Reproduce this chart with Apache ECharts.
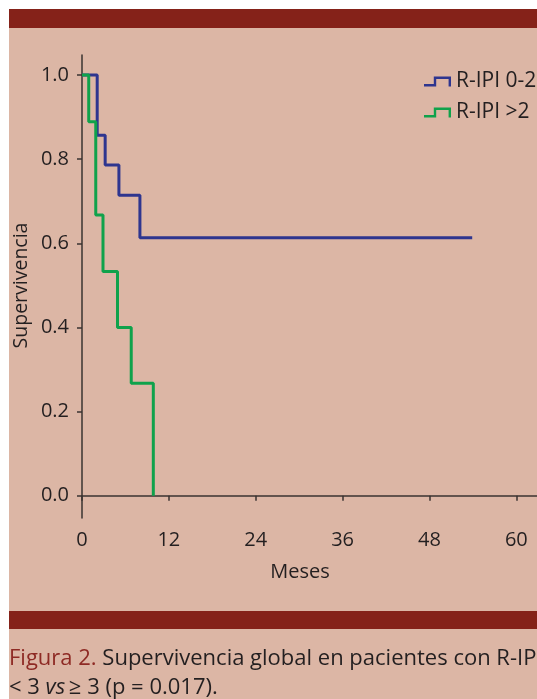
<!DOCTYPE html>
<html>
<head>
<meta charset="utf-8">
<script src="https://cdn.jsdelivr.net/npm/echarts@6/dist/echarts.min.js"></script>
<style>
html,body{margin:0;padding:0;background:#fff;}
#c{width:537px;height:699px;}
</style>
</head>
<body>
<div id="c"></div>
<script>
// ---- data ----
const seriesNames = ['R-IPI 0-2', 'R-IPI >2'];
const blueMonths = [0, 2.1, 3.2, 5.1, 8.0, 53.9];
const blueSurv   = [1.0, 0.857, 0.786, 0.714, 0.613, 0.613];
const greenMonths = [0, 0.93, 1.9, 2.9, 4.9, 6.8, 9.85];
const greenSurv   = [1.0, 0.889, 0.667, 0.533, 0.4, 0.267, 0.0];
const xTicks = [0, 12, 24, 36, 48, 60];
const yTicks = [0, 0.2, 0.4, 0.6, 0.8, 1.0];
const xTitle = 'Meses';
const yTitle = 'Supervivencia';
const captionLead = 'Figura 2.';
const captionLine1 = ' Supervivencia global en pacientes con R-IPI';
const captionLine2a = '< 3 ';
const captionVs = 'vs';
const captionLine2b = '\u2009\u2265 3 (p = 0.017).';

const FONT = '"Open Sans", "Noto Sans", sans-serif';
const TAN = '#DCB6A5';
const DARK = '#852219';
const INK = '#231F20';

function pairs(xs, ys) { return xs.map((x, i) => [x, ys[i]]); }

const stepIcon = 'path://M0 7.6 L9.8 7.6 L9.8 0 L27 0 L27 10 L24.6 10 L24.6 2.4 L12.2 2.4 L12.2 10 L0 10 Z';

const chart = echarts.init(document.getElementById('c'), null, {renderer: 'canvas'});
chart.setOption({
  animation: false,
  backgroundColor: '#ffffff',
  textStyle: {fontFamily: FONT},
  graphic: [
    {type: 'rect', z: -10, shape: {x: 9, y: 9, width: 540, height: 700}, style: {fill: TAN}},
    {type: 'rect', z: -9, shape: {x: 9, y: 9, width: 540, height: 19}, style: {fill: DARK}},
    {type: 'rect', z: -9, shape: {x: 9, y: 611, width: 540, height: 18}, style: {fill: DARK}},
    {type: 'text', z: 10, x: 300, y: 572, style: {text: xTitle, font: '20px ' + FONT, fill: INK, textAlign: 'center', textVerticalAlign: 'middle'}},
    {type: 'text', z: 10, x: 21, y: 285.5, rotation: Math.PI / 2, style: {text: yTitle, font: '19.5px ' + FONT, fill: INK, textAlign: 'center', textVerticalAlign: 'middle'}},
    {type: 'text', z: 10, x: 9, y: 659, style: {
      text: '{r|' + captionLead + '}' + captionLine1,
      font: '22px ' + FONT, fill: INK, textAlign: 'left', textVerticalAlign: 'middle',
      rich: {r: {fill: '#8E2A24', font: '22px ' + FONT}}
    }},
    {type: 'text', z: 10, x: 9, y: 688, style: {
      text: captionLine2a + '{i|' + captionVs + '}' + captionLine2b,
      font: '22px ' + FONT, fill: INK, textAlign: 'left', textVerticalAlign: 'middle',
      rich: {i: {fill: INK, font: 'italic 22px ' + FONT}}
    }}
  ],
  legend: {
    orient: 'vertical',
    left: 424,
    top: 71,
    padding: 0,
    itemWidth: 27,
    itemHeight: 10,
    itemGap: 10,
    icon: stepIcon,
    textStyle: {fontSize: 21, color: INK, fontFamily: FONT},
    data: seriesNames
  },
  grid: {left: 82, top: 55, width: 455, height: 463, containLabel: false, outerBoundsMode: 'none'},
  xAxis: {
    type: 'value',
    min: 0,
    max: 62.85,
    axisLine: {show: true, lineStyle: {color: '#3a3330', width: 1.5}},
    axisTick: {show: true, length: 5, customValues: xTicks, lineStyle: {color: '#3a3330', width: 1.5}},
    axisLabel: {customValues: xTicks, margin: 12, fontSize: 20, color: INK, fontFamily: FONT},
    splitLine: {show: false}
  },
  yAxis: {
    type: 'value',
    min: -0.053,
    max: 1.0475,
    axisLine: {show: true, lineStyle: {color: '#3a3330', width: 1.5}},
    axisTick: {show: true, length: 5, customValues: yTicks, lineStyle: {color: '#3a3330', width: 1.5}},
    axisLabel: {customValues: yTicks, margin: 13, fontSize: 20, color: INK, fontFamily: FONT,
      formatter: v => v.toFixed(1)},
    splitLine: {show: false}
  },
  series: [
    {
      name: seriesNames[0], type: 'line', step: 'end', showSymbol: false, symbol: 'none',
      data: pairs(blueMonths, blueSurv),
      lineStyle: {color: '#2E358F', width: 3}, itemStyle: {color: '#2E358F'}
    },
    {
      name: seriesNames[1], type: 'line', step: 'end', showSymbol: false, symbol: 'none',
      data: pairs(greenMonths, greenSurv),
      lineStyle: {color: '#0FA24B', width: 3}, itemStyle: {color: '#0FA24B'}
    }
  ]
});
</script>
</body>
</html>
